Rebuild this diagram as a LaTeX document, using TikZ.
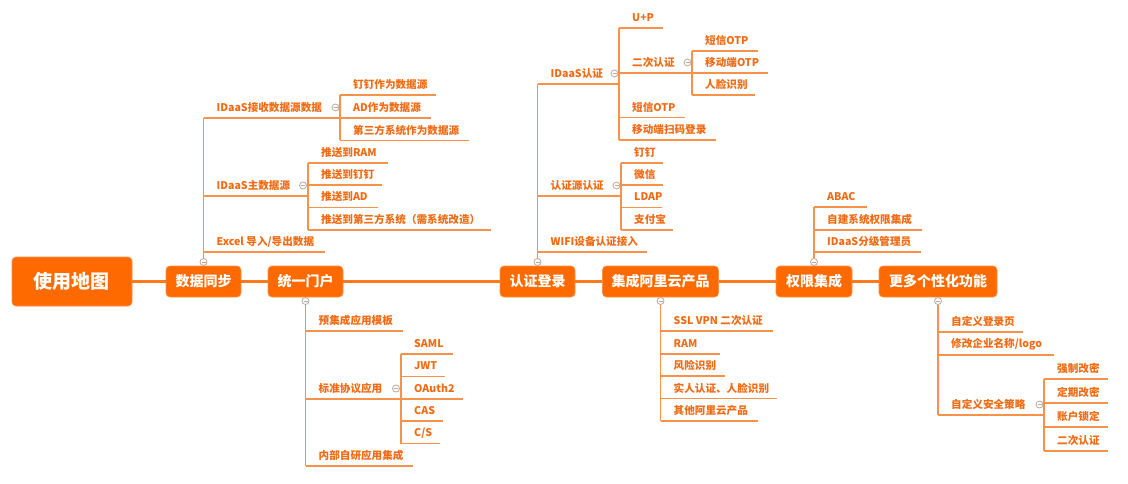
\documentclass[tikz,border=0pt]{standalone}
\usepackage{fontspec}
\setmainfont{Noto Sans CJK SC}
\definecolor{boxc}{HTML}{FF6A00}
\definecolor{spinec}{HTML}{FF7A1F}
\definecolor{linec}{HTML}{F8924A}
\definecolor{textc}{HTML}{F26A12}
\definecolor{circc}{HTML}{B8A89C}
\newcommand\leaffont{\fontsize{10.6}{12}\selectfont\bfseries}
\newcommand\boxfont{\fontsize{14}{16}\selectfont\bfseries}
\newcommand\rootfont{\fontsize{19}{21}\selectfont\bfseries}
\tikzset{
  br/.style={draw=linec, line width=1.3pt},
  spine/.style={draw=spinec, line width=2.6pt},
  leaf/.style={anchor=west, inner sep=0pt, text=textc, font=\leaffont},
  mainbox/.style={rounded corners=4pt, fill=boxc, draw=boxc!75!white, line width=0.6pt,
    text=white, inner sep=0pt, minimum height=31, font=\boxfont},
  cir/.style={circle, minimum size=7, inner sep=0pt, draw=circc, line width=0.8pt, fill=white,
    path picture={\draw[circc, line width=0.7pt] ([xshift=-2pt]path picture bounding box.center) -- ([xshift=2pt]path picture bounding box.center);}}
}
% name, x start, x end, underline y, text
\newcommand\lf[5]{%
  \coordinate (#1-s) at (#2,#4);
  \coordinate (#1-e) at (#3,#4);
  \draw[br] (#1-s) -- (#1-e);
  \node[leaf] (#1) at (#2+13,#4-10.5) {#5};
}
\begin{document}
\begin{tikzpicture}[x=1pt,y=-1pt]
\useasboundingbox[fill=white] (0,0) rectangle (1128,484);

% main boxes
\node[mainbox, minimum width=120, minimum height=49, font=\rootfont] (root) at (72,281.5) {使用地图};
\node[mainbox, minimum width=75] (d1) at (203.5,281.5) {数据同步};
\node[mainbox, minimum width=75] (d2) at (305.5,281.5) {统一门户};
\node[mainbox, minimum width=75] (d3) at (537.5,281.5) {认证登录};
\node[mainbox, minimum width=116] (d4) at (660.5,281.5) {集成阿里云产品};
\node[mainbox, minimum width=76] (d5) at (814,281.5) {权限集成};
\node[mainbox, minimum width=118] (d6) at (938,281.5) {更多个性化功能};

\draw[spine] (root.east) -- (d1.west);
\draw[spine] (d1.east) -- (d2.west);
\draw[spine] (d2.east) -- (d3.west);
\draw[spine] (d3.east) -- (d4.west);
\draw[spine] (d4.east) -- (d5.west);
\draw[spine] (d5.east) -- (d6.west);

% ---------- 数据同步
\node[cir] (c1) at (203.5,262) {};
\coordinate (t1) at (203.5,118);
\draw[br] (c1) -- (t1);
\lf{p1}{203.5}{340}{118}{IDaaS接收数据源数据}
\node[cir] (c1a) at (335.5,107.5) {};
\lf{p1a}{340}{436}{95}{钉钉作为数据源}
\lf{p1b}{340}{431}{118}{AD作为数据源}
\lf{p1c}{340}{469}{140.5}{第三方系统作为数据源}
\draw[br] (p1a-s) -- (p1c-s);
\lf{p2}{203.5}{308}{196}{IDaaS主数据源}
\node[cir] (c1b) at (303,185.5) {};
\lf{p2a}{308}{388}{163}{推送到RAM}
\lf{p2b}{308}{382}{185}{推送到钉钉}
\lf{p2c}{308}{378}{207.5}{推送到AD}
\lf{p2d}{308}{491}{230}{推送到第三方系统（需系统改造）}
\draw[br] (p2a-s) -- (p2d-s);
\lf{p3}{203.5}{325}{252}{Excel 导入/导出数据}

% ---------- 统一门户
\node[cir] (c2) at (305.5,301) {};
\coordinate (t2) at (305.5,466);
\draw[br] (c2) -- (t2);
\lf{q1}{305.5}{403}{331}{预集成应用模板}
\lf{q2}{305.5}{401}{399}{标准协议应用}
\node[cir] (c2a) at (396,388.5) {};
\lf{q2a}{401}{453}{354}{SAML}
\lf{q2b}{401}{445}{376.5}{JWT}
\lf{q2c}{401}{463}{399}{OAuth2}
\lf{q2d}{401}{443}{421}{CAS}
\lf{q2e}{401}{440}{443.5}{C/S}
\draw[br] (q2a-s) -- (q2e-s);
\lf{q3}{305.5}{413}{466}{内部自研应用集成}

% ---------- 认证登录
\node[cir] (c3) at (537.5,262) {};
\coordinate (t3) at (537.5,84);
\draw[br] (c3) -- (t3);
\lf{r1}{537.5}{619}{84}{IDaaS认证}
\node[cir] (c3a) at (614.5,73.5) {};
\lf{r1a}{619}{663}{28}{U+P}
\lf{r1b}{619}{692}{73}{二次认证}
\node[cir] (c3b) at (687.5,62.5) {};
\lf{r1ba}{692}{758}{51}{短信OTP}
\lf{r1bb}{692}{768}{73}{移动端OTP}
\lf{r1bc}{692}{755}{95}{人脸识别}
\draw[br] (r1ba-s) -- (r1bc-s);
\lf{r1c}{619}{685}{117.5}{短信OTP}
\lf{r1d}{619}{716}{140}{移动端扫码登录}
\draw[br] (r1a-s) -- (r1d-s);
\lf{r2}{537.5}{621}{196}{认证源认证}
\node[cir] (c3c) at (616.5,185.5) {};
\lf{r2a}{621}{663}{163}{钉钉}
\lf{r2b}{621}{663}{185}{微信}
\lf{r2c}{621}{662}{207.5}{LDAP}
\lf{r2d}{621}{673}{230}{支付宝}
\draw[br] (r2a-s) -- (r2d-s);
\lf{r3}{537.5}{647}{252}{WIFI设备认证接入}

% ---------- 集成阿里云产品
\node[cir] (c4) at (660.5,301) {};
\coordinate (t4) at (660.5,421);
\draw[br] (c4) -- (t4);
\lf{s1}{660.5}{773}{331}{SSL VPN 二次认证}
\lf{s2}{660.5}{720}{354}{RAM}
\lf{s3}{660.5}{725}{376}{风险识别}
\lf{s4}{660.5}{777}{398.5}{实人认证、人脸识别}
\lf{s5}{660.5}{758}{421}{其他阿里云产品}

% ---------- 权限集成
\node[cir] (c5) at (814,262) {};
\coordinate (t5) at (814,207);
\draw[br] (c5) -- (t5);
\lf{u1}{814}{867}{207}{ABAC}
\lf{u2}{814}{922}{230}{自建系统权限集成}
\lf{u3}{814}{921}{252}{IDaaS分级管理员}

% ---------- 更多个性化功能
\node[cir] (c6) at (938,301) {};
\coordinate (t6) at (938,415);
\draw[br] (c6) -- (t6);
\lf{v1}{938}{1023}{332}{自定义登录页}
\lf{v2}{938}{1054}{355}{修改企业名称/logo}
\lf{v3}{938}{1044}{415}{自定义安全策略}
\node[cir] (c6a) at (1039.5,404.5) {};
\lf{v3a}{1044}{1108}{379}{强制改密}
\lf{v3b}{1044}{1108}{403}{定期改密}
\lf{v3c}{1044}{1108}{427}{账户锁定}
\lf{v3d}{1044}{1108}{451}{二次认证}
\draw[br] (v3a-s) -- (v3d-s);
\end{tikzpicture}
\end{document}
